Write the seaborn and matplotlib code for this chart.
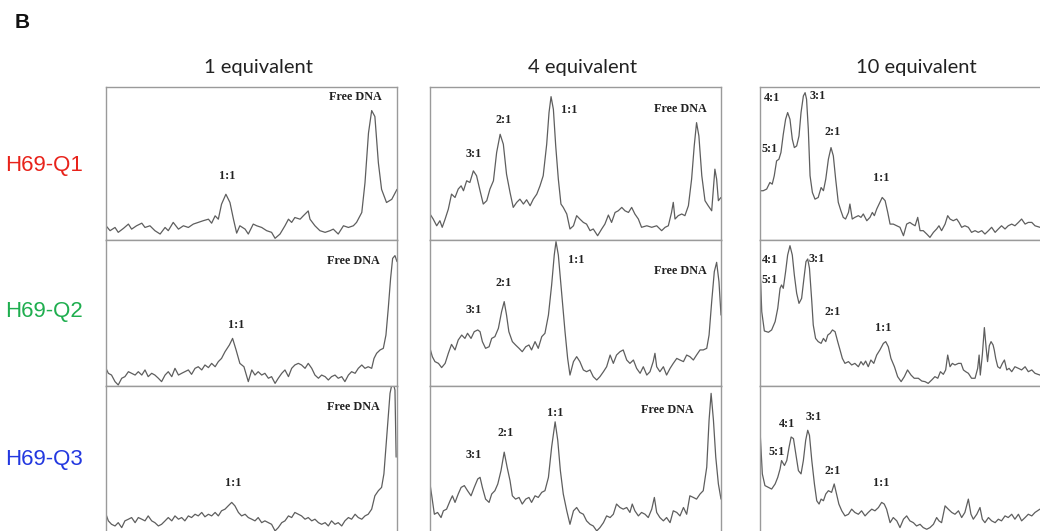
import numpy as np
import pandas as pd
import seaborn as sns
import matplotlib.pyplot as plt

# nomi di righe e colonne
row_names = ["H69-Q1", "H69-Q2", "H69-Q3"]
row_colors = ["#e8231b", "#1fae4f", "#2338e0"]
col_names = ["1 equivalent", "4 equivalent", "10 equivalent"]

# tracce lette a occhio: posizione (% larghezza pannello) e intensita (% altezza pannello)
# riga 1
q1_eq1_x = [0, 1.4, 3.1, 4.2, 6.0, 7.7, 8.8, 10.5, 12.3, 13.4, 15.1, 16.8, 18.6, 20.3, 21.4, 23.1, 24.9, 26.6,
            28.3, 30.0, 31.7, 33.4, 35.2, 36.3, 37.5, 38.6, 39.7, 41.2, 42.6, 43.8, 44.9, 46.0, 47.8, 48.9, 50.6,
            51.8, 53.5, 55.2, 56.9, 58.1, 59.8, 61.5, 62.7, 63.8, 64.9, 66.7, 67.8, 69.5, 70.1, 71.8, 73.5, 75.3,
            77.0, 78.1, 79.8, 81.6, 83.3, 85.0, 86.1, 87.9, 89.0, 90.2, 91.3, 92.4, 93.6, 94.7, 96.4, 98.2, 100]
q1_eq1_y = [9.3, 6.1, 8.2, 5.0, 7.6, 10.4, 7.1, 9.3, 11.0, 8.2, 9.3, 6.1, 3.9, 8.2, 6.1, 11.5, 7.1, 9.3,
            8.2, 10.4, 11.5, 12.6, 13.6, 11.0, 15.8, 13.6, 23.4, 29.9, 24.5, 13.6, 4.5, 9.3, 7.1, 3.9, 10.4,
            9.3, 8.2, 6.1, 5.0, 1.1, 3.9, 9.3, 13.6, 11.5, 14.7, 13.6, 15.8, 19.0, 13.6, 9.3, 6.1, 5.0,
            6.1, 7.1, 3.9, 9.3, 8.2, 9.3, 11.5, 18.0, 37.4, 69.9, 84.6, 80.7, 50.4, 33.1, 24.5, 26.6, 33.1]

q1_eq4_x = [0, 1.1, 2.3, 3.4, 4.2, 5.2, 6.3, 7.4, 8.6, 9.7, 10.7, 11.5, 12.6, 13.7, 14.9, 16.0, 17.2, 18.3,
            19.5, 20.6, 21.8, 22.9, 24.1, 25.2, 26.3, 27.5, 28.6, 29.8, 30.9, 32.1, 33.2, 34.4, 35.5, 36.7,
            37.8, 38.9, 40.1, 40.9, 41.6, 42.4, 43.2, 44.1, 45.0, 45.8, 47.0, 48.1, 49.3, 50.4, 51.5, 52.7,
            53.8, 55.0, 56.1, 57.6, 59.0, 60.1, 61.3, 62.4, 63.6, 64.7, 65.9, 67.0, 68.2, 69.3, 70.4, 71.6,
            72.7, 74.5, 76.2, 77.9, 79.6, 80.8, 81.9, 83.0, 83.6, 84.2, 85.3, 86.5, 87.6, 88.8, 89.9, 90.8,
            91.6, 92.4, 93.4, 94.5, 95.6, 96.8, 97.9, 98.5, 99.1, 100]
q1_eq4_y = [17.0, 13.7, 9.3, 12.6, 8.3, 13.7, 20.2, 30.0, 27.8, 33.3, 35.4, 32.2, 38.7, 37.6, 45.2, 42.0, 32.2, 23.5,
            25.7, 33.3, 38.7, 57.2, 69.1, 62.6, 43.0, 31.1, 21.3, 24.6, 26.7, 23.5, 26.3, 22.4, 26.7, 30.0,
            35.4, 42.0, 62.6, 83.3, 93.7, 85.4, 61.5, 39.8, 23.5, 21.3, 17.0, 7.2, 9.3, 15.9, 13.7, 11.5,
            10.4, 6.1, 7.2, 2.8, 7.2, 10.4, 16.3, 11.5, 18.0, 19.1, 21.3, 19.1, 18.0, 21.3, 17.0, 13.7,
            8.3, 9.3, 8.3, 9.3, 6.1, 8.3, 9.3, 18.0, 24.6, 13.7, 15.9, 17.0, 15.9, 22.4, 39.8, 61.5,
            76.7, 68.0, 42.0, 25.7, 22.4, 19.1, 46.3, 39.8, 25.7, 27.8]

q1_eq10_x = [0, 1.1, 2.3, 3.4, 4.2, 4.9, 5.7, 6.5, 7.2, 8.0, 8.8, 9.5, 10.3, 11.1, 11.8, 12.6, 13.4, 14.1, 14.9,
             15.5, 16.0, 16.6, 17.2, 18.0, 18.9, 20.0, 21.0, 21.8, 22.6, 23.5, 24.4, 25.2, 26.0, 26.9, 27.8,
             28.6, 29.4, 30.4, 30.9, 31.7, 32.6, 33.8, 34.7, 35.5, 36.7, 37.8, 38.6, 39.3, 40.1, 41.2, 42.0,
             43.0, 43.9, 44.7, 45.8, 47.0, 48.1, 49.3, 50.4, 51.5, 52.3, 53.3, 54.2, 55.0, 56.1, 57.3, 58.4,
             59.6, 60.7, 61.5, 62.4, 63.6, 64.5, 65.3, 66.4, 67.6, 68.4, 69.3, 70.4, 71.6, 72.7, 73.9, 75.0,
             76.2, 77.3, 78.5, 79.6, 80.8, 81.9, 83.0, 84.2, 85.3, 86.5, 87.6, 88.8, 89.9, 91.1, 92.2, 93.4,
             94.5, 96.2, 98.0, 100]
q1_eq10_y = [32.2, 32.2, 33.3, 37.6, 36.5, 42.0, 51.7, 52.8, 57.2, 69.1, 78.9, 83.3, 78.9, 65.9, 60.4, 61.5, 68.0,
             83.3, 94.1, 96.3, 92.0, 72.4, 42.0, 31.1, 26.7, 27.8, 34.3, 32.2, 39.8, 52.8, 60.4, 55.0, 39.8,
             24.6, 19.1, 14.8, 13.7, 18.0, 23.5, 13.7, 14.8, 15.9, 14.8, 17.0, 12.6, 14.8, 18.0, 15.9, 20.2,
             24.6, 27.8, 25.7, 18.0, 10.4, 10.4, 9.3, 8.3, 2.8, 10.4, 11.5, 10.4, 9.3, 14.8, 6.1, 6.1, 3.9,
             1.7, 5.0, 7.2, 9.3, 6.1, 10.4, 15.9, 13.7, 12.6, 13.7, 11.5, 8.3, 9.3, 8.3, 5.0, 6.1, 5.0,
             6.1, 3.9, 6.1, 8.3, 5.0, 7.2, 9.3, 7.2, 9.3, 10.4, 9.3, 11.5, 13.7, 10.4, 11.5, 11.5,
             9.3, 8.3, 9.5, 8.0]

# riga 2
q2_eq1_x = [0, 0.8, 1.9, 3.1, 4.2, 5.4, 6.5, 7.7, 8.8, 10.0, 11.1, 12.3, 13.4, 14.5, 15.7, 16.8, 18.0, 19.1,
            20.3, 21.4, 22.6, 23.7, 24.9, 26.0, 27.1, 28.3, 29.4, 30.6, 31.7, 32.9, 34.0, 35.2, 36.3, 37.5,
            38.6, 39.7, 40.9, 42.4, 43.5, 44.7, 46.0, 47.4, 48.9, 50.1, 51.2, 52.3, 53.5, 54.6, 55.8, 56.9,
            58.1, 59.2, 60.4, 61.5, 62.7, 63.8, 64.9, 66.1, 67.2, 68.4, 69.5, 70.7, 71.8, 73.0, 74.1, 75.3,
            76.4, 77.5, 78.7, 79.8, 81.0, 82.1, 83.3, 84.4, 85.6, 86.7, 87.9, 89.0, 90.1, 91.3, 92.1, 93.0,
            94.2, 95.3, 96.2, 97.0, 97.8, 98.5, 99.3, 100]
q2_eq1_y = [12.1, 8.7, 7.5, 3.0, 0.7, 5.3, 6.4, 9.8, 8.7, 7.5, 9.8, 7.5, 11.0, 6.4, 8.7, 7.5, 5.3, 3.0,
            7.5, 9.8, 6.4, 12.1, 7.5, 8.7, 9.8, 11.0, 8.0, 12.1, 13.2, 11.0, 14.4, 12.6, 15.5, 13.2,
            16.7, 18.9, 23.5, 28.1, 32.6, 24.7, 15.5, 13.2, 3.0, 11.0, 7.5, 9.8, 7.5, 8.7, 5.3, 6.4,
            1.8, 5.3, 8.7, 11.0, 6.4, 12.1, 14.4, 15.5, 14.4, 12.1, 15.5, 12.1, 7.5, 5.3, 7.5, 6.4,
            4.1, 6.4, 7.5, 5.3, 6.4, 3.0, 7.5, 9.8, 8.7, 12.1, 14.4, 12.1, 13.2, 12.1, 18.9, 22.4,
            24.7, 25.8, 34.9, 53.2, 73.7, 87.4, 89.3, 85.2]

q2_eq4_x = [0, 0.8, 1.7, 2.9, 4.0, 5.2, 6.3, 7.4, 8.6, 9.7, 10.9, 12.0, 12.9, 14.1, 15.2, 16.4, 17.2, 18.0,
            19.1, 20.3, 21.2, 22.3, 23.5, 24.6, 25.5, 26.3, 27.1, 28.3, 29.4, 30.6, 31.7, 32.9, 34.0, 34.9,
            36.1, 37.2, 38.4, 39.5, 40.7, 41.8, 42.7, 43.3, 44.1, 45.2, 46.4, 47.3, 48.1, 49.3, 50.4, 51.5,
            52.7, 53.8, 55.0, 56.1, 57.3, 58.4, 59.6, 60.7, 61.9, 63.0, 64.1, 65.3, 66.4, 67.6, 68.7, 69.9,
            71.0, 72.2, 73.3, 74.5, 75.6, 76.7, 77.3, 77.9, 79.0, 80.2, 81.3, 82.5, 83.6, 84.8, 85.9, 87.1,
            88.2, 89.3, 90.5, 91.6, 92.8, 93.9, 95.1, 95.9, 96.8, 97.7, 98.5, 99.3, 100]
q2_eq4_y = [25.8, 20.1, 16.7, 15.5, 12.6, 15.5, 22.4, 28.5, 24.7, 31.5, 34.9, 32.6, 36.1, 32.6, 37.2, 38.4, 37.2, 30.4,
            25.8, 26.9, 32.6, 33.8, 39.5, 50.9, 57.8, 48.6, 37.2, 30.4, 28.1, 25.8, 23.5, 26.9, 28.1, 24.7,
            30.4, 25.8, 33.8, 36.1, 48.6, 69.2, 89.7, 98.9, 89.7, 64.6, 37.2, 18.9, 7.5, 16.7, 20.1, 16.7,
            11.0, 9.8, 11.0, 6.4, 4.1, 6.4, 9.8, 13.2, 21.2, 15.5, 21.2, 23.5, 24.7, 17.8, 15.5, 17.8,
            12.1, 8.7, 13.2, 7.5, 9.8, 16.7, 22.4, 13.2, 9.8, 13.2, 7.5, 12.1, 15.5, 18.9, 17.8, 16.7,
            21.2, 20.1, 17.8, 21.2, 24.7, 24.7, 25.8, 34.9, 57.8, 78.3, 84.7, 71.5, 48.6]

q2_eq10_x = [0, 0.6, 1.5, 2.9, 4.0, 5.2, 6.1, 6.9, 7.4, 8.0, 8.8, 9.5, 10.3, 11.1, 11.8, 12.6, 13.4, 14.3, 15.1,
             15.8, 16.4, 17.0, 17.8, 18.3, 19.1, 20.0, 21.0, 21.8, 22.6, 23.3, 24.1, 24.9, 25.8, 26.7, 27.5,
             28.3, 29.2, 30.4, 31.5, 32.6, 33.8, 34.7, 35.5, 36.3, 37.2, 38.1, 39.1, 40.1, 41.2, 42.4, 43.2,
             44.1, 45.0, 46.2, 47.3, 48.5, 49.6, 50.7, 51.9, 53.0, 54.4, 55.6, 56.7, 57.8, 59.0, 60.1, 61.1,
             62.0, 63.0, 63.8, 64.5, 65.3, 66.1, 67.0, 68.2, 69.1, 69.9, 70.7, 71.6, 72.7, 73.9, 74.8, 75.3,
             75.7, 76.4, 77.1, 77.7, 78.2, 78.8, 79.4, 80.1, 80.5, 81.0, 81.7, 82.5, 83.3, 84.0, 84.8, 85.6,
             86.5, 87.6, 88.8, 89.9, 91.1, 92.2, 93.4, 94.5, 96.2, 98.0, 100]
q2_eq10_y = [82.9, 50.9, 37.7, 36.8, 38.4, 44.1, 53.2, 66.9, 69.2, 66.9, 78.3, 89.7, 96.1, 89.7, 76.0, 63.5, 56.6, 60.0, 73.7,
             85.2, 87.0, 80.6, 57.8, 41.8, 32.6, 30.4, 29.2, 32.6, 30.4, 34.9, 36.1, 38.4, 37.2, 30.4, 24.7,
             18.9, 15.5, 16.7, 14.4, 15.5, 13.2, 16.7, 14.4, 17.1, 13.2, 17.8, 15.5, 21.2, 24.7, 29.2, 30.4,
             26.9, 18.9, 13.2, 6.4, 3.0, 6.4, 11.0, 7.5, 5.3, 5.3, 3.4, 3.0, 1.8, 4.1, 6.4, 5.3,
             9.8, 8.0, 11.0, 21.2, 13.2, 15.5, 14.4, 15.5, 15.5, 11.0, 9.8, 8.7, 5.3, 5.3, 12.1, 21.2,
             7.5, 21.2, 40.0, 26.4, 16.7, 27.6, 30.4, 28.1, 24.7, 18.9, 13.2, 12.1, 15.5, 17.8, 11.0, 12.1,
             9.8, 13.2, 12.1, 11.0, 13.2, 9.8, 11.0, 8.7, 7.5, 8.5, 9.0]

# riga 3
q3_eq1_x = [0, 0.8, 1.9, 3.1, 4.2, 5.4, 6.5, 7.7, 8.8, 10.0, 11.1, 12.3, 13.4, 14.5, 15.7, 16.8, 18.0, 19.1,
            20.3, 21.4, 22.6, 23.7, 24.9, 26.0, 27.1, 28.3, 29.4, 30.6, 31.7, 32.9, 34.0, 35.2, 36.3, 37.5,
            38.6, 39.7, 40.9, 42.0, 43.2, 44.3, 45.5, 46.6, 47.8, 48.9, 50.1, 51.2, 52.3, 53.5, 54.6, 55.8,
            56.9, 58.1, 59.2, 60.4, 61.5, 62.7, 63.8, 64.9, 66.1, 67.2, 68.4, 69.5, 70.7, 71.8, 73.0, 74.1,
            75.3, 76.4, 77.5, 78.7, 79.8, 81.0, 82.1, 83.3, 84.4, 85.6, 86.7, 87.9, 89.0, 90.1, 91.3, 92.4,
            93.6, 94.7, 95.5, 96.2, 96.9, 97.6, 98.2, 98.7, 99.3, 99.7]
q3_eq1_y = [14.5, 10.1, 7.8, 6.7, 8.9, 5.6, 10.1, 11.2, 12.3, 8.9, 12.3, 11.2, 10.1, 13.4, 10.1, 8.9, 6.7, 7.8,
            10.1, 12.3, 10.1, 13.4, 11.2, 12.3, 10.1, 13.4, 12.3, 14.5, 13.4, 15.7, 12.8, 14.5, 13.4, 15.7,
            13.4, 16.8, 17.9, 20.1, 22.4, 20.1, 15.7, 13.4, 14.5, 12.3, 11.2, 10.1, 12.3, 8.9, 10.1, 8.9,
            7.8, 3.4, 5.6, 8.9, 10.1, 13.4, 12.3, 15.7, 14.5, 13.4, 11.2, 12.3, 10.1, 11.2, 8.9, 7.8,
            8.9, 6.7, 10.1, 7.8, 8.9, 6.7, 10.1, 12.3, 11.2, 14.5, 12.3, 11.2, 13.4, 14.5, 17.9, 26.8,
            30.2, 32.4, 41.4, 59.3, 77.2, 95.1, 100.7, 101.8, 97.3, 52.6]

q3_eq4_x = [0, 0.6, 1.5, 2.6, 3.8, 4.6, 5.7, 6.9, 7.7, 8.6, 9.7, 10.7, 11.8, 12.9, 14.1, 15.2, 16.4, 17.2, 18.0,
            19.1, 20.3, 21.2, 22.3, 23.3, 24.4, 25.5, 26.5, 27.5, 28.3, 29.4, 30.6, 31.7, 32.9, 34.0, 34.9,
            36.1, 37.2, 38.4, 39.5, 40.7, 41.8, 43.0, 43.9, 44.8, 45.8, 47.0, 48.1, 49.3, 50.4, 51.5, 52.7,
            53.8, 55.0, 56.1, 57.3, 58.4, 59.6, 60.7, 61.9, 63.0, 64.1, 65.3, 66.4, 67.6, 68.7, 69.5, 70.4,
            71.6, 72.7, 73.9, 75.0, 76.2, 77.1, 77.9, 79.0, 80.2, 81.3, 82.5, 83.6, 84.8, 85.9, 87.1, 88.2,
            89.3, 90.5, 91.6, 92.8, 93.9, 95.1, 95.9, 96.6, 97.4, 98.2, 99.1, 100]
q3_eq4_y = [34.7, 26.8, 14.5, 15.7, 12.3, 16.8, 17.9, 23.5, 26.8, 22.4, 28.0, 32.4, 33.6, 30.2, 26.8, 32.4, 38.0, 39.1, 32.4,
            24.6, 22.4, 28.0, 30.2, 34.7, 43.6, 55.9, 45.9, 36.9, 26.8, 24.6, 25.7, 21.3, 24.6, 25.7, 22.4,
            26.8, 25.7, 29.1, 30.2, 39.1, 59.3, 76.1, 63.8, 43.6, 28.0, 16.8, 7.8, 16.8, 19.0, 15.7, 14.5,
            10.1, 7.8, 6.7, 3.4, 5.6, 8.9, 13.4, 12.3, 14.5, 21.3, 19.0, 17.9, 19.0, 15.7, 21.3, 16.8,
            13.4, 15.7, 14.5, 12.3, 17.9, 25.7, 15.7, 12.3, 10.1, 12.3, 8.9, 16.8, 15.7, 13.4, 19.0, 14.5,
            26.8, 25.7, 24.6, 28.0, 30.2, 45.9, 77.2, 95.1, 77.2, 52.6, 34.7, 24.6]

q3_eq10_x = [0, 0.8, 1.7, 2.9, 4.0, 5.2, 6.1, 6.9, 7.4, 8.4, 9.2, 10.0, 10.7, 11.5, 12.3, 13.2, 14.1, 14.9, 15.7,
             16.4, 17.0, 17.8, 18.7, 19.5, 20.3, 21.0, 21.8, 22.6, 23.5, 24.6, 25.5, 26.3, 27.1, 28.1, 29.2,
             30.4, 31.5, 32.6, 33.8, 34.9, 36.1, 37.2, 38.4, 39.5, 40.7, 41.8, 42.7, 43.5, 44.7, 45.8, 47.0,
             48.1, 49.3, 50.4, 51.5, 52.7, 53.8, 55.0, 56.1, 57.3, 58.4, 59.6, 60.7, 61.5, 62.4, 63.6, 64.7,
             65.9, 67.0, 68.2, 69.3, 70.4, 71.6, 72.5, 73.3, 74.5, 75.6, 76.4, 77.3, 78.5, 79.6, 80.8, 81.9,
             83.0, 84.2, 85.3, 86.5, 87.6, 88.8, 89.9, 91.1, 92.2, 93.4, 94.5, 96.2, 98.0, 100]
q3_eq10_y = [70.5, 41.4, 33.6, 32.4, 31.3, 34.7, 39.1, 44.7, 50.3, 47.0, 50.3, 59.3, 66.0, 64.9, 54.8, 43.6, 41.4, 50.3, 63.8,
             70.5, 67.1, 50.3, 34.7, 23.5, 21.3, 24.6, 23.5, 28.0, 30.2, 29.1, 34.7, 28.0, 21.3, 16.8, 13.4,
             14.5, 17.9, 15.7, 14.5, 16.8, 13.4, 15.7, 17.9, 16.8, 19.0, 22.4, 21.3, 17.9, 8.9, 12.3, 10.1,
             5.6, 11.2, 13.4, 10.1, 8.9, 6.7, 7.8, 5.6, 4.5, 5.6, 7.8, 12.3, 10.1, 8.9, 20.1, 17.9,
             15.7, 14.5, 16.8, 12.3, 15.7, 24.6, 14.5, 11.2, 14.5, 19.0, 11.2, 8.9, 12.3, 10.1, 8.9, 11.2,
             10.1, 13.4, 12.3, 14.5, 11.2, 14.5, 10.1, 12.3, 14.5, 13.4, 15.7, 17.9, 16.5, 18.0]

traces = [[(q1_eq1_x, q1_eq1_y), (q1_eq4_x, q1_eq4_y), (q1_eq10_x, q1_eq10_y)],
          [(q2_eq1_x, q2_eq1_y), (q2_eq4_x, q2_eq4_y), (q2_eq10_x, q2_eq10_y)],
          [(q3_eq1_x, q3_eq1_y), (q3_eq4_x, q3_eq4_y), (q3_eq10_x, q3_eq10_y)]]

# etichette dei picchi (testo, x, y) per ogni pannello
peak_labels = [
    [[("1:1", 41.5, 41.8), ("Free DNA", 85.6, 93.3)],
     [("3:1", 14.9, 56.0), ("2:1", 25.4, 78.5), ("1:1", 47.8, 85.0), ("Free DNA", 85.9, 85.4)],
     [("4:1", 4.0, 93.0), ("3:1", 19.7, 94.0), ("5:1", 3.4, 59.8), ("2:1", 25.0, 70.7), ("1:1", 41.6, 40.2)]],
    [[("1:1", 44.7, 41.8), ("Free DNA", 85.0, 85.6)],
     [("3:1", 14.9, 52.1), ("2:1", 25.4, 70.8), ("1:1", 50.4, 86.3), ("Free DNA", 85.9, 78.8)],
     [("4:1", 3.4, 86.3), ("5:1", 3.4, 72.6), ("3:1", 19.5, 87.0), ("2:1", 25.0, 50.5), ("1:1", 42.2, 40.0)]],
    [[("1:1", 43.8, 35.1), ("Free DNA", 85.0, 86.1)],
     [("3:1", 14.9, 53.7), ("2:1", 26.1, 68.9), ("1:1", 43.0, 82.1), ("Free DNA", 81.7, 84.3)],
     [("4:1", 9.2, 75.0), ("3:1", 18.3, 79.4), ("5:1", 5.7, 55.9), ("2:1", 25.0, 43.6), ("1:1", 41.6, 35.1)]],
]

sns.set_style("white")
plt.rcParams['font.family'] = ['DejaVu Sans']

W, H = 1040, 531
fig = plt.figure(figsize=(W / 100, H / 100), dpi=100)

# posizione dei pannelli in pixel
col_left = [106, 430, 760]
col_width = 291
row_top = [87, 240, 386]
row_bottom = [240, 386, 536]

for r in range(3):
    for c in range(3):
        ax = fig.add_axes([col_left[c] / W, 1 - row_bottom[r] / H,
                           col_width / W, (row_bottom[r] - row_top[r]) / H])
        xs, ys = traces[r][c]
        df = pd.DataFrame({'pos': xs, 'intensity': ys})
        sns.lineplot(data=df, x='pos', y='intensity', ax=ax, color='#5e5e5e',
                     linewidth=0.9, estimator=None, sort=False)
        ax.set_xlim(0, 100)
        ax.set_ylim(0, 100)
        ax.set_xticks([])
        ax.set_yticks([])
        ax.set_xlabel('')
        ax.set_ylabel('')
        for s in ax.spines.values():
            s.set_color('#9a9a9a')
            s.set_linewidth(1.0)
        for txt, lx, ly in peak_labels[r][c]:
            ax.text(lx, ly, txt, ha='center', va='center', fontsize=8.7,
                    fontweight='bold', family='Liberation Serif', color='#222222')

# titoli delle colonne
col_centers = [258, 582, 916]
for c in range(3):
    fig.text(col_centers[c] / W, 1 - 67 / H, col_names[c], ha='center', va='center',
             fontsize=14.5, family='Lato', color='#222222')

# etichette delle righe
row_centers = [165, 312, 460]
for r in range(3):
    fig.text(44 / W, 1 - row_centers[r] / H, row_names[r], ha='center', va='center',
             fontsize=16, family='Liberation Sans', color=row_colors[r])

fig.text(22 / W, 1 - 22 / H, 'B', ha='center', va='center', fontsize=15,
         fontweight='bold', family='Liberation Sans', color='#111111')

fig.savefig('out.png', dpi=100)
